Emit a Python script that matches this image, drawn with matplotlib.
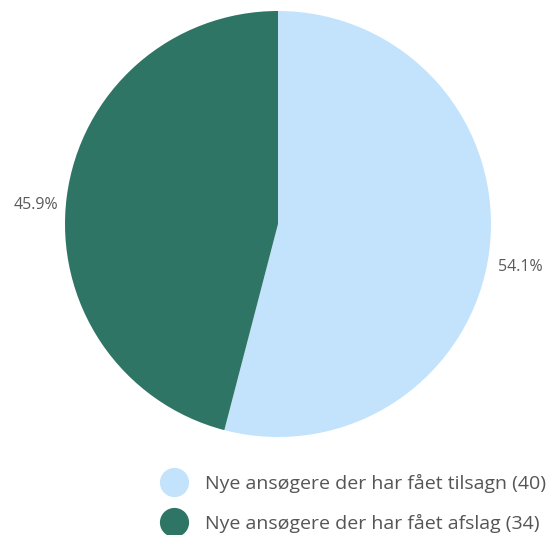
import matplotlib
matplotlib.use("Agg")
import matplotlib.pyplot as plt
from matplotlib.lines import Line2D
from matplotlib.transforms import offset_copy

categories = ["Nye ansøgere der har fået tilsagn (40)", "Nye ansøgere der har fået afslag (34)"]
values = [40, 34]
colors = ["#C2E3FB", "#2F7566"]

plt.rcParams['font.family'] = ['Open Sans', 'DejaVu Sans']

fig = plt.figure(figsize=(5.47, 5.35), dpi=100)
ax = fig.add_axes([65/547, (535-437)/535, 426/547, 426/535])
wedges, texts, autotexts = ax.pie(values, colors=colors, startangle=90, counterclock=False,
                                  autopct='%1.1f%%', pctdistance=1.145, radius=1.0,
                                  textprops=dict(color='#5a5a5a', fontsize=11.5))
for t in autotexts:
    t.set_transform(offset_copy(ax.transData, fig=fig, x=0, y=-12, units='dots'))
ax.set_xlim(-1, 1)
ax.set_ylim(-1, 1)
ax.set_aspect('auto')
ax.axis('off')

handles = [Line2D([], [], marker='o', linestyle='none', markersize=20,
                  markerfacecolor=c, markeredgecolor=c) for c in colors]
fig.legend(handles, categories, loc='upper left', bbox_to_anchor=(147/547, 1 - 466/535),
           frameon=False, fontsize=14, labelcolor='#555555', handletextpad=0.6,
           labelspacing=1.1, borderaxespad=0)
fig.savefig("out.png", dpi=100)
